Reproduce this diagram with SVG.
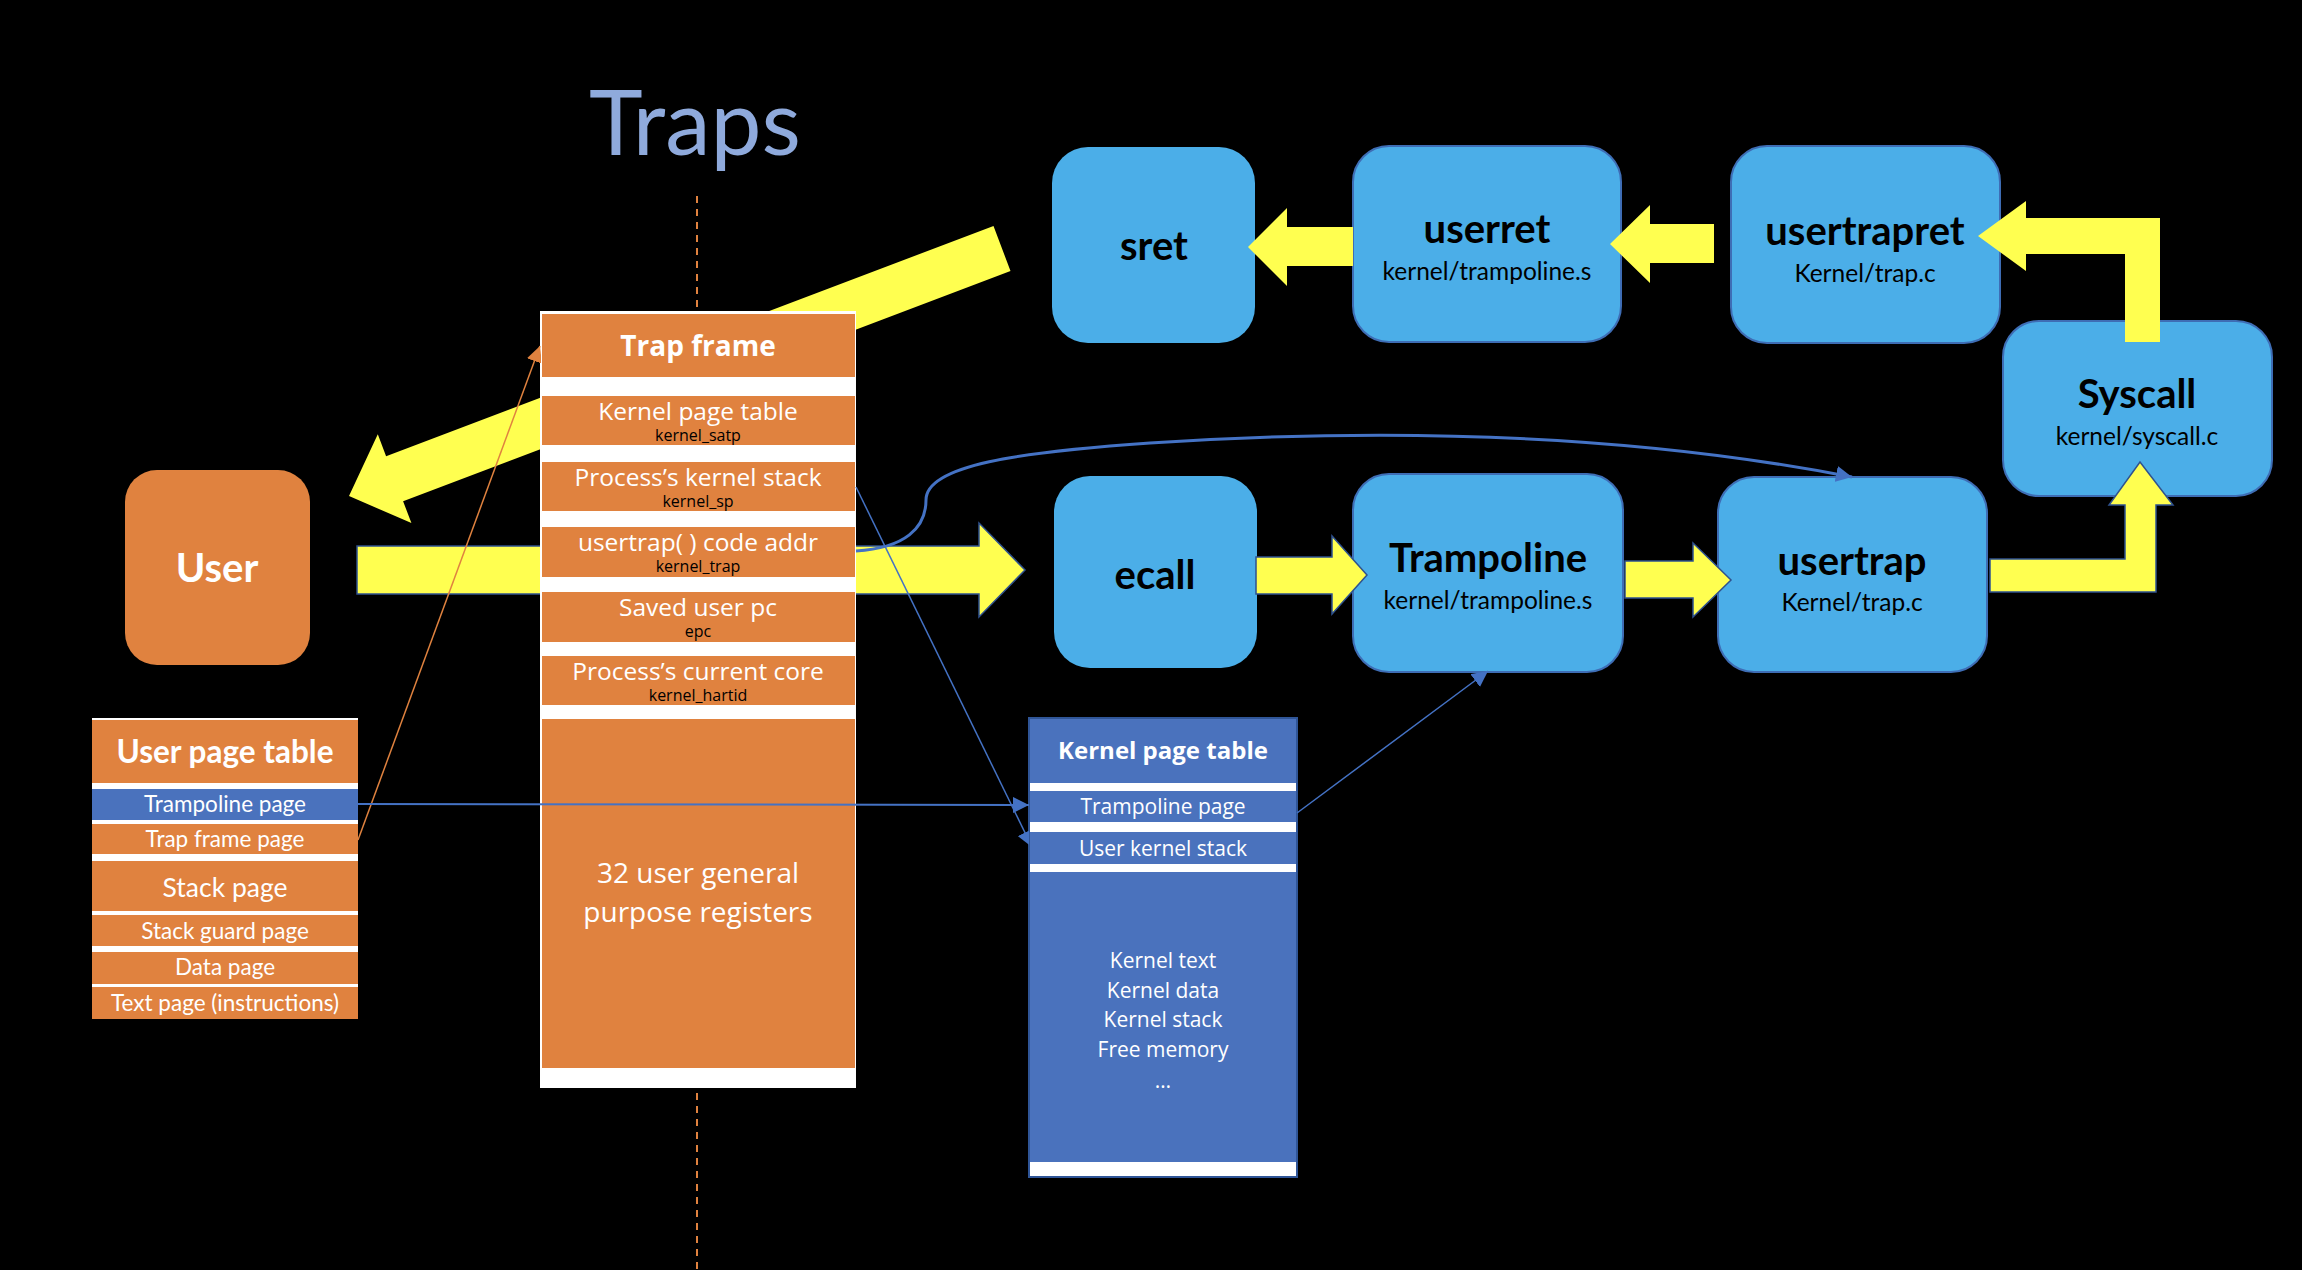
<svg xmlns="http://www.w3.org/2000/svg" width="2302" height="1270" viewBox="0 0 2302 1270">
<defs>
<style>
.bx{fill:#4BAEE8;stroke:#3E6DB5;stroke-width:2}
.yl{fill:#FFFF50}
.ylo{fill:#FFFF50;stroke:#2F528F;stroke-width:1.5}
.t1{font-family:Lato,"Liberation Sans",sans-serif;font-weight:bold;font-size:40px;fill:#000;text-anchor:middle}
.t2{font-family:Lato,"Liberation Sans",sans-serif;font-size:24.5px;fill:#000;text-anchor:middle}
.or{fill:#E0823F}
.kb{fill:#4A72BD}
.wt{fill:#fff}
.os{font-family:"Open Sans","Liberation Sans",sans-serif;text-anchor:middle}
.la{font-family:Lato,"Liberation Sans",sans-serif;text-anchor:middle;fill:#fff}
.w{fill:#fff}
.k{fill:#000}
.r1{font-size:24.5px}
.r2{font-size:16px}
</style>
<marker id="ab" markerUnits="userSpaceOnUse" markerWidth="16" markerHeight="16" refX="14" refY="7" orient="auto" viewBox="0 0 14 14"><path d="M0,0 L14,7 L0,14 z" fill="#4472C4"/></marker>
<marker id="ao" markerUnits="userSpaceOnUse" markerWidth="16" markerHeight="16" refX="14" refY="7" orient="auto" viewBox="0 0 14 14"><path d="M0,0 L14,7 L0,14 z" fill="#E0823F"/></marker>
<clipPath id="cTF"><rect x="0" y="0" width="541" height="1270"/></clipPath>
<clipPath id="cKP"><rect x="0" y="0" width="1029" height="1270"/></clipPath>
</defs>
<rect x="0" y="0" width="2302" height="1270" fill="#000"/>
<text x="695" y="155" font-family="Lato,'Liberation Sans',sans-serif" font-size="91" fill="#8FAADC" text-anchor="middle">Traps</text>
<line x1="697" y1="196" x2="697" y2="1270" stroke="#E0823F" stroke-width="2" stroke-dasharray="7,6"/>

<g id="node-sret"><rect class="bx" x="1052" y="147" width="203" height="196" rx="36" style="stroke:none"/><text class="t1" x="1154" y="260">sret</text></g>
<g id="node-userret"><rect class="bx" x="1353" y="146" width="268" height="196" rx="36"/><text class="t1" x="1487" y="243">userret</text><text class="t2" x="1487" y="280">kernel/trampoline.s</text></g>
<g id="node-usertrapret"><rect class="bx" x="1731" y="146" width="269" height="197" rx="36"/><text class="t1" x="1865" y="245">usertrapret</text><text class="t2" x="1865" y="282">Kernel/trap.c</text></g>
<g id="node-syscall"><rect class="bx" x="2003" y="321" width="269" height="175" rx="36"/><text class="t1" x="2137" y="408">Syscall</text><text class="t2" x="2137" y="445">kernel/syscall.c</text></g>
<g id="node-ecall"><rect class="bx" x="1054" y="476" width="203" height="192" rx="36" style="stroke:none"/><text class="t1" x="1155" y="589">ecall</text></g>
<g id="node-trampoline"><rect class="bx" x="1353" y="474" width="270" height="198" rx="36"/><text class="t1" x="1488" y="572">Trampoline</text><text class="t2" x="1488" y="609">kernel/trampoline.s</text></g>
<g id="node-usertrap"><rect class="bx" x="1718" y="477" width="269" height="195" rx="36"/><text class="t1" x="1852" y="575">usertrap</text><text class="t2" x="1852" y="611">Kernel/trap.c</text></g>
<g id="node-user"><rect class="or" x="125" y="470" width="185" height="195" rx="32"/><text class="la" x="217" y="582" font-size="40" font-weight="bold">User</text></g>

<g id="flow-arrows">
<polygon class="yl" points="349,496 377.8,434.3 386.1,456.2 993.5,226 1010.5,271 403.1,501.2 411.4,523.1"/>
<polygon class="ylo" points="357,546 979,546 979,523 1025,570 979,617 979,594 357,594"/>
<polygon class="ylo" points="1256,557 1332,557 1332,536 1367,575 1332,614 1332,594 1256,594"/>
<polygon class="ylo" points="1625,561 1693,561 1693,543 1731,580 1693,617 1693,598 1625,598"/>
<polygon class="ylo" points="1990,559 2125,559 2125,505 2109,505 2140,462 2173,505 2156,505 2156,592 1990,592"/>
<polygon class="yl" points="2125,342 2125,254 2026,254 2026,271 1978,236 2026,201 2026,218 2160,218 2160,342"/>
<polygon class="yl" points="1714,224 1650,224 1650,205 1610,244 1650,283 1650,263 1714,263"/>
<polygon class="yl" points="1353,227 1287,227 1287,208 1248,247 1287,286 1287,266 1353,266"/>
</g>

<g id="node-trapframe">
<rect class="wt" x="540" y="311" width="316" height="777"/>
<rect class="or" x="542" y="314" width="313" height="63"/>
<rect class="or" x="542" y="396" width="313" height="49"/>
<rect class="or" x="542" y="462" width="313" height="49"/>
<rect class="or" x="542" y="527" width="313" height="50"/>
<rect class="or" x="542" y="592" width="313" height="50"/>
<rect class="or" x="542" y="656" width="313" height="49"/>
<rect class="or" x="542" y="719" width="313" height="349"/>
<text class="os w" x="698" y="356" font-size="28" font-weight="bold">Trap frame</text>
<text class="os w r1" x="698" y="420">Kernel page table</text>
<text class="os k r2" x="698" y="441">kernel_satp</text>
<text class="os w r1" x="698" y="486">Process’s kernel stack</text>
<text class="os k r2" x="698" y="507">kernel_sp</text>
<text class="os w r1" x="698" y="551">usertrap( ) code addr</text>
<text class="os k r2" x="698" y="572">kernel_trap</text>
<text class="os w r1" x="698" y="616">Saved user pc</text>
<text class="os k r2" x="698" y="637">epc</text>
<text class="os w r1" x="698" y="680">Process’s current core</text>
<text class="os k r2" x="698" y="701">kernel_hartid</text>
<text class="os w" x="698" y="883" font-size="28">32 user general</text>
<text class="os w" x="698" y="922" font-size="28">purpose registers</text>
</g>

<g id="node-userpagetable">
<rect class="wt" x="92" y="718" width="266" height="301"/>
<rect class="or" x="92" y="720" width="266" height="63"/>
<rect class="kb" x="92" y="789" width="266" height="31"/>
<rect class="or" x="92" y="824" width="266" height="30"/>
<rect class="or" x="92" y="861" width="266" height="50"/>
<rect class="or" x="92" y="915" width="266" height="31"/>
<rect class="or" x="92" y="952" width="266" height="32"/>
<rect class="or" x="92" y="987" width="266" height="32"/>
<text class="la" x="225" y="763" font-size="31.5" font-weight="bold">User page table</text>
<text class="la" x="225" y="812" font-size="22.5">Trampoline page</text>
<text class="la" x="225" y="847" font-size="22.5">Trap frame page</text>
<text class="la" x="225" y="897" font-size="26.5">Stack page</text>
<text class="la" x="225" y="939" font-size="22.5">Stack guard page</text>
<text class="la" x="225" y="975" font-size="22.5">Data page</text>
<text class="la" x="225" y="1011" font-size="22.5">Text page (instructions)</text>
</g>

<g id="node-kernelpagetable">
<rect class="wt" x="1029" y="718" width="268" height="459" stroke="#2F5597" stroke-width="2"/>
<rect class="kb" x="1030" y="719" width="266" height="64"/>
<rect class="kb" x="1030" y="791" width="266" height="31"/>
<rect class="kb" x="1030" y="832" width="266" height="32"/>
<rect class="kb" x="1030" y="872" width="266" height="290"/>
<text class="os w" x="1163" y="759" font-size="24" font-weight="bold">Kernel page table</text>
<text class="os w" x="1163" y="814" font-size="21">Trampoline page</text>
<text class="os w" x="1163" y="856" font-size="21">User kernel stack</text>
<text class="os w" x="1163" y="968" font-size="21">Kernel text</text>
<text class="os w" x="1163" y="998" font-size="21">Kernel data</text>
<text class="os w" x="1163" y="1027" font-size="21">Kernel stack</text>
<text class="os w" x="1163" y="1057" font-size="21">Free memory</text>
<text class="os w" x="1163" y="1088" font-size="21">…</text>
</g>

<g id="connectors" fill="none">
<line x1="358" y1="840" x2="540" y2="346" stroke="#E0823F" stroke-width="1.5" marker-end="url(#ao)" clip-path="url(#cTF)"/>
<line x1="358" y1="804" x2="1029" y2="805" stroke="#4472C4" stroke-width="2" marker-end="url(#ab)"/>
<line x1="856" y1="487" x2="1032" y2="847" stroke="#4472C4" stroke-width="1.5" marker-end="url(#ab)" clip-path="url(#cKP)"/>
<line x1="1297" y1="813" x2="1488" y2="671" stroke="#4472C4" stroke-width="1.5" marker-end="url(#ab)"/>
<path d="M856,551 C905,548 926,528 926,500 C926,465 1020,452 1150,443 C1350,430 1600,428 1852,477" stroke="#4472C4" stroke-width="3" marker-end="url(#ab)"/>
</g>
</svg>
